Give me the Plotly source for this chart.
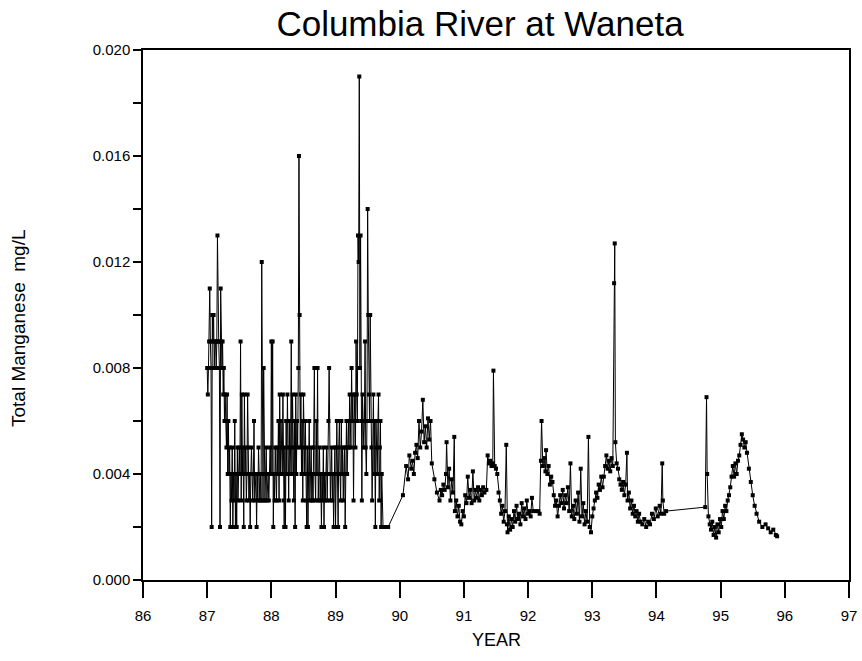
import plotly.graph_objects as go

# ---- 1987 - 1989 (values in mg/L x 1000) ----
years_87 = [87.00, 87.01, 87.02, 87.03, 87.04, 87.05, 87.06, 87.07, 87.08, 87.09, 87.10, 87.11, 87.12, 87.13,
            87.14, 87.15, 87.16, 87.17, 87.18, 87.19, 87.20, 87.21, 87.22, 87.23, 87.24, 87.25, 87.26, 87.27,
            87.28, 87.29, 87.30, 87.31, 87.32, 87.33, 87.34, 87.35, 87.36, 87.37, 87.38, 87.39, 87.40, 87.41,
            87.42, 87.43, 87.44, 87.45, 87.46, 87.47, 87.48, 87.49, 87.50, 87.51, 87.52, 87.53, 87.54, 87.55,
            87.56, 87.57, 87.58, 87.59, 87.60, 87.61, 87.62, 87.63, 87.64, 87.65, 87.66, 87.67, 87.68, 87.69,
            87.70, 87.71, 87.72, 87.73, 87.74, 87.75, 87.76, 87.77, 87.78, 87.79, 87.80, 87.81, 87.82, 87.83,
            87.84, 87.85, 87.86, 87.87, 87.88, 87.89, 87.90, 87.91, 87.92, 87.93, 87.94, 87.95, 87.96, 87.97,
            87.98, 87.99]
mn_87 = [8, 7, 8, 9, 11, 9, 8, 2, 10, 9, 10, 8, 9, 9,
         8, 9, 13, 9, 9, 8, 2, 11, 9, 8, 9, 7, 8, 6,
         7, 6, 5, 7, 4, 6, 4, 5, 2, 4, 3, 5, 2, 4,
         3, 6, 2, 4, 2, 5, 3, 4, 5, 4, 9, 3, 7, 4,
         5, 2, 7, 4, 5, 3, 4, 7, 5, 3, 4, 2, 4, 5,
         4, 3, 4, 6, 3, 4, 4, 2, 4, 3, 5, 4, 3, 4,
         3, 12, 4, 3, 8, 4, 3, 4, 5, 3, 4, 4, 3, 4,
         5, 4]

years_88 = [88.00, 88.01, 88.02, 88.03, 88.04, 88.05, 88.06, 88.07, 88.08, 88.09, 88.10, 88.11, 88.12, 88.13,
            88.14, 88.15, 88.16, 88.17, 88.18, 88.19, 88.20, 88.21, 88.22, 88.23, 88.24, 88.25, 88.26, 88.27,
            88.28, 88.29, 88.30, 88.31, 88.32, 88.33, 88.34, 88.35, 88.36, 88.37, 88.38, 88.39, 88.40, 88.41,
            88.42, 88.43, 88.44, 88.45, 88.46, 88.47, 88.48, 88.49, 88.50, 88.51, 88.52, 88.53, 88.54, 88.55,
            88.56, 88.57, 88.58, 88.59, 88.60, 88.61, 88.62, 88.63, 88.64, 88.65, 88.66, 88.67, 88.68, 88.69,
            88.70, 88.71, 88.72, 88.73, 88.74, 88.75, 88.76, 88.77, 88.78, 88.79, 88.80, 88.81, 88.82, 88.83,
            88.84, 88.85, 88.86, 88.87, 88.88, 88.89, 88.90, 88.91, 88.92, 88.93, 88.94, 88.95, 88.96, 88.97,
            88.98, 88.99]
mn_88 = [9, 4, 9, 2, 4, 3, 5, 4, 3, 5, 4, 6, 3, 7,
         4, 6, 5, 4, 7, 3, 2, 5, 2, 6, 4, 7, 5, 3,
         6, 4, 5, 9, 4, 7, 5, 3, 6, 2, 7, 4, 6, 5,
         8, 16, 10, 5, 7, 4, 6, 3, 7, 5, 4, 6, 3, 2,
         5, 2, 4, 6, 3, 4, 5, 3, 4, 3, 5, 8, 4, 3,
         6, 4, 8, 3, 4, 5, 3, 4, 2, 4, 3, 5, 2, 4,
         3, 4, 5, 3, 4, 6, 8, 4, 3, 4, 5, 3, 4, 2,
         4, 5]

years_89 = [89.00, 89.01, 89.02, 89.03, 89.04, 89.05, 89.06, 89.07, 89.08, 89.09, 89.10, 89.11, 89.12, 89.13,
            89.14, 89.15, 89.16, 89.17, 89.18, 89.19, 89.20, 89.21, 89.22, 89.23, 89.24, 89.25, 89.26, 89.27,
            89.28, 89.29, 89.30, 89.31, 89.32, 89.33, 89.34, 89.35, 89.36, 89.37, 89.38, 89.39, 89.40, 89.41,
            89.42, 89.43, 89.44, 89.45, 89.46, 89.47, 89.48, 89.49, 89.50, 89.51, 89.52, 89.53, 89.54, 89.55,
            89.56, 89.57, 89.58, 89.59, 89.60, 89.61, 89.62, 89.63, 89.64, 89.65, 89.66, 89.67, 89.68, 89.69,
            89.70, 89.71, 89.72, 89.74, 89.78, 89.82]
mn_89 = [2, 5, 6, 4, 2, 5, 6, 4, 3, 6, 4, 5, 3, 4,
         5, 2, 5, 6, 4, 5, 6, 5, 7, 6, 5, 8, 6, 7,
         3, 6, 7, 5, 9, 7, 6, 13, 12, 19, 8, 13, 6, 3,
         7, 6, 5, 6, 9, 5, 4, 6, 14, 10, 7, 6, 10, 6,
         5, 3, 6, 7, 4, 6, 2, 6, 5, 4, 6, 7, 3, 5,
         6, 2, 4, 2, 2, 2]

# ---- 1990 - 1995 (values in mg/L x 1000) ----
years_9095 = [90.05, 90.10, 90.13, 90.15, 90.18, 90.20, 90.22, 90.24, 90.26, 90.28, 90.30, 90.32, 90.34, 90.36,
              90.38, 90.40, 90.42, 90.44, 90.46, 90.48, 90.50, 90.54, 90.58, 90.62, 90.64, 90.66, 90.68, 90.70,
              90.72, 90.73, 90.75, 90.77, 90.79, 90.81, 90.83, 90.85, 90.86, 90.88, 90.90, 90.92, 90.94, 90.96,
              90.98, 91.00, 91.02, 91.04, 91.06, 91.08, 91.10, 91.12, 91.14, 91.16, 91.18, 91.20, 91.22, 91.24,
              91.26, 91.28, 91.30, 91.32, 91.35, 91.37, 91.39, 91.41, 91.43, 91.45, 91.46, 91.48, 91.50, 91.52,
              91.54, 91.56, 91.58, 91.60, 91.62, 91.64, 91.66, 91.67, 91.68, 91.70, 91.72, 91.74, 91.76, 91.78,
              91.80, 91.82, 91.84, 91.86, 91.88, 91.90, 91.92, 91.94, 91.96, 91.98, 92.00, 92.02, 92.04, 92.06,
              92.08, 92.12, 92.16, 92.18, 92.20, 92.21, 92.23, 92.25, 92.27, 92.28, 92.30, 92.32, 92.34, 92.36,
              92.38, 92.40, 92.42, 92.44, 92.46, 92.48, 92.50, 92.52, 92.54, 92.56, 92.58, 92.60, 92.62, 92.64,
              92.66, 92.68, 92.70, 92.72, 92.74, 92.76, 92.78, 92.80, 92.82, 92.84, 92.86, 92.88, 92.90, 92.92,
              92.94, 92.96, 92.98, 93.00, 93.02, 93.04, 93.06, 93.08, 93.10, 93.12, 93.14, 93.16, 93.18, 93.20,
              93.22, 93.24, 93.26, 93.28, 93.30, 93.32, 93.34, 93.35, 93.36, 93.38, 93.40, 93.42, 93.44, 93.46,
              93.48, 93.50, 93.52, 93.54, 93.55, 93.57, 93.59, 93.61, 93.63, 93.65, 93.67, 93.69, 93.71, 93.73,
              93.75, 93.78, 93.81, 93.84, 93.87, 93.90, 93.93, 93.96, 93.99, 94.02, 94.05, 94.07, 94.09, 94.10,
              94.12, 94.15, 94.76, 94.78, 94.79, 94.81, 94.83, 94.85, 94.87, 94.89, 94.91, 94.93, 94.95, 94.97,
              94.99, 95.01, 95.03, 95.05, 95.07, 95.09, 95.11, 95.13, 95.15, 95.17, 95.19, 95.21, 95.23, 95.25,
              95.27, 95.29, 95.31, 95.33, 95.35, 95.37, 95.39, 95.41, 95.44, 95.47, 95.50, 95.53, 95.56, 95.60,
              95.65, 95.70, 95.74, 95.78, 95.82, 95.86, 95.88]
mn_9095 = [3.2, 4.3, 3.8, 4.7, 4.2, 4.5, 4.0, 4.8, 5.1, 4.6, 6.0, 5.0, 5.6, 6.8,
           5.2, 5.8, 5.0, 6.1, 5.3, 6.0, 4.4, 3.8, 3.3, 3.0, 3.4, 3.2, 3.6, 3.4,
           4.0, 5.2, 3.5, 4.2, 3.0, 3.8, 3.3, 5.4, 2.6, 3.0, 2.4, 2.8, 2.2, 2.1,
           2.6, 2.4, 3.2, 2.9, 3.9, 3.1, 3.4, 2.9, 4.1, 3.0, 3.4, 3.1, 3.5, 3.0,
           3.4, 3.2, 3.5, 3.3, 3.4, 4.7, 4.4, 4.5, 4.3, 4.4, 7.9, 4.3, 4.2, 4.0,
           3.3, 3.0, 2.5, 2.8, 2.2, 2.6, 5.1, 2.1, 1.8, 2.4, 1.9, 2.3, 2.0, 2.6,
           2.2, 2.8, 2.3, 2.5, 2.1, 2.9, 2.4, 2.7, 2.3, 3.0, 2.5, 2.6, 2.4, 3.1,
           2.6, 2.6, 2.6, 2.5, 4.5, 6.0, 4.3, 4.6, 4.1, 4.9, 4.0, 4.3, 3.6, 3.9,
           3.7, 3.2, 2.8, 3.0, 2.4, 2.8, 3.2, 2.9, 3.4, 2.7, 3.2, 2.9, 3.5, 2.6,
           4.4, 2.4, 2.8, 2.3, 3.0, 2.5, 3.3, 2.2, 4.2, 2.4, 2.9, 2.1, 2.6, 2.2,
           5.4, 2.0, 1.8, 2.4, 2.7, 3.0, 3.3, 3.1, 3.6, 3.4, 3.9, 3.5, 3.9, 4.3,
           4.7, 4.2, 4.5, 4.1, 4.6, 4.3, 11.2, 12.7, 5.2, 4.4, 4.2, 3.8, 3.6, 3.4,
           3.7, 3.2, 3.6, 4.8, 3.0, 3.3, 2.7, 3.0, 2.5, 2.8, 2.4, 2.6, 2.2, 2.5,
           2.2, 2.1, 2.3, 2.0, 2.2, 2.1, 2.5, 2.3, 2.7, 2.4, 2.8, 2.5, 4.4, 3.0,
           2.5, 2.6, 2.75, 6.9, 4.0, 2.4, 2.1, 1.9, 2.2, 1.7, 2.0, 1.6, 2.1, 1.8,
           2.3, 2.0, 2.6, 2.3, 2.8, 2.6, 3.0, 3.2, 3.5, 3.9, 4.3, 3.9, 4.4, 4.0,
           4.5, 4.7, 5.1, 5.5, 5.3, 5.0, 5.2, 4.8, 4.2, 3.7, 3.2, 2.8, 2.5, 2.2,
           2.0, 2.1, 1.95, 1.8, 1.9, 1.7, 1.65]

x_tick_vals = list(range(86, 98))
y_tick_vals = [0.000, 0.004, 0.008, 0.012, 0.016, 0.020]
y_minor_vals = [0.002, 0.006, 0.010, 0.014, 0.018]

years = years_87 + years_88 + years_89 + years_9095
mn = [v / 1000.0 for v in mn_87 + mn_88 + mn_89 + mn_9095]

FONT = "Liberation Sans, Arial, sans-serif"

fig = go.Figure()
fig.add_trace(go.Scatter(
    x=years, y=mn, mode="lines+markers",
    line=dict(color="black", width=1),
    marker=dict(symbol="square", size=4, color="black"),
    hoverinfo="x+y", showlegend=False,
))

L, R, T, B = 143, 13, 50, 81
PW, PH = 862 - L - R, 661 - T - B
fig.update_layout(
    width=862, height=661,
    paper_bgcolor="white", plot_bgcolor="white",
    margin=dict(l=L, r=R, t=T, b=B, autoexpand=False),
    title=dict(text="Columbia River at Waneta", x=480 / 862, xanchor="center",
               y=1 - 24 / 661, yanchor="middle", automargin=False,
               font=dict(family=FONT, size=35, color="black")),
    font=dict(family=FONT, color="black"),
    annotations=[
        dict(text="Total Manganese  mg/L", textangle=-90, xref="paper", yref="paper",
             x=(18 - L) / PW, y=(661 - B - 328) / PH, xanchor="center", yanchor="middle",
             showarrow=False, font=dict(family=FONT, size=19, color="black")),
        dict(text="YEAR", xref="paper", yref="paper",
             x=0.5, y=(661 - B - 640) / PH, xanchor="center", yanchor="middle",
             showarrow=False, font=dict(family=FONT, size=18, color="black")),
    ],
)
fig.update_xaxes(
    range=[86, 97], tickvals=x_tick_vals, ticktext=[str(v) for v in x_tick_vals],
    ticks="outside", ticklen=16, tickwidth=1.5, tickcolor="black", ticklabelstandoff=5,
    showline=True, linecolor="black", linewidth=1.5, mirror=True,
    showgrid=False, zeroline=False, automargin=False,
    tickfont=dict(family=FONT, size=15, color="black"),
)
fig.update_yaxes(
    range=[0, 0.020], tickvals=y_tick_vals, tickformat=".3f",
    ticks="outside", ticklen=8, tickwidth=1.5, tickcolor="black",
    minor=dict(tickvals=y_minor_vals, ticks="outside", ticklen=8,
               tickwidth=1.5, tickcolor="black", showgrid=False),
    showline=True, linecolor="black", linewidth=1.5, mirror=True,
    showgrid=False, zeroline=False, automargin=False,
    tickfont=dict(family=FONT, size=15, color="black"),
)

fig.write_html("out.html", config={"displayModeBar": False},
               post_script="document.body.style.margin='0';")
